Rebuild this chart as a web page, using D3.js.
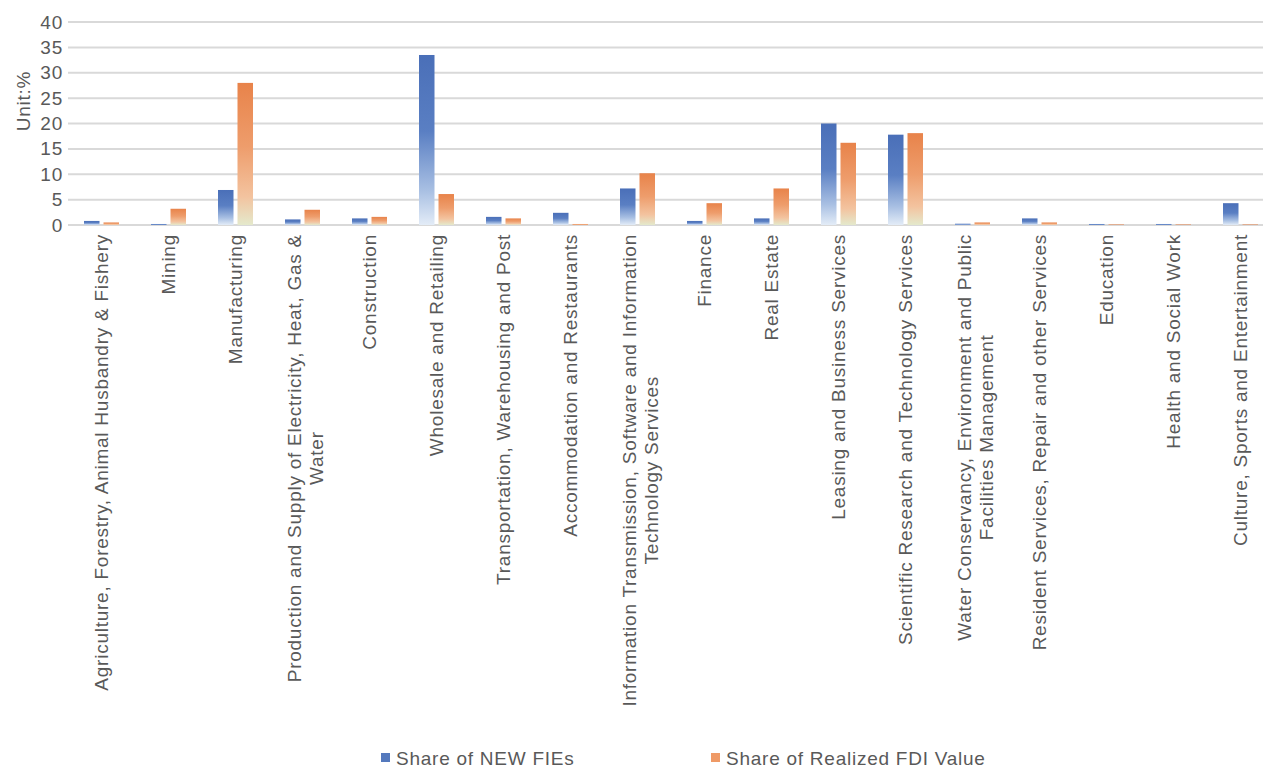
<!DOCTYPE html>
<html>
<head>
<meta charset="utf-8">
<script src="https://cdn.jsdelivr.net/npm/d3@7/dist/d3.min.js"></script>
<style>
  html, body { margin: 0; padding: 0; background: #fff; }
  svg { display: block; font-family: "Liberation Sans", Arial, Helvetica, sans-serif; }
  .lbl { font-size: 19px; fill: #595959; letter-spacing: 0.75px; }
</style>
</head>
<body>
<svg id="chart" width="1263" height="769"></svg>
<script>
// Industries (a "\n" marks where a long label wraps onto a second line)
const categories = [
  "Agriculture, Forestry, Animal Husbandry & Fishery",
  "Mining",
  "Manufacturing",
  "Production and Supply of Electricity, Heat, Gas &\nWater",
  "Construction",
  "Wholesale and Retailing",
  "Transportation, Warehousing and Post",
  "Accommodation and Restaurants",
  "Information Transmission, Software and Information\nTechnology Services",
  "Finance",
  "Real Estate",
  "Leasing and Business Services",
  "Scientific Research and Technology Services",
  "Water Conservancy, Environment and Public\nFacilities Management",
  "Resident Services, Repair and other Services",
  "Education",
  "Health and Social Work",
  "Culture, Sports and Entertainment"
];

// Share of newly established foreign-invested enterprises (%)
const newFIEs = [0.8, 0.2, 6.9, 1.1, 1.3, 33.5, 1.6, 2.4, 7.2, 0.8, 1.3, 20.0, 17.8, 0.25, 1.3, 0.2, 0.2, 4.3];
// Share of realized FDI value (%)
const realizedFDI = [0.5, 3.2, 28.0, 3.0, 1.6, 6.1, 1.3, 0.2, 10.2, 4.3, 7.2, 16.2, 18.1, 0.5, 0.5, 0.1, 0.1, 0.1];

const seriesNames = ["Share of NEW FIEs", "Share of Realized FDI Value"];
const yTicks = [0, 5, 10, 15, 20, 25, 30, 35, 40];
const yTitle = "Unit:%";

const svg = d3.select("#chart");
const W = 1263;

const y = d3.scaleLinear().domain([0, 40]).range([225, 22]);
const x = d3.scaleBand().domain(categories).range([67.5, 1273.5]).padding(0);
const xs = d3.scaleBand().domain(seriesNames).range([16.5, 51.5]).paddingInner(0.205);

// gradient fills, dark at the top fading towards the baseline
const defs = svg.append("defs");
const grads = [
  { id: "gBlue", stops: [[0, "#4a6fb8"], [0.45, "#5a7fc3"], [0.8, "#a9c0e3"], [1, "#e3ecf7"]] },
  { id: "gOrange", stops: [[0, "#e8834a"], [0.45, "#ee9d6c"], [0.8, "#f3c39f"], [1, "#e4e9cc"]] }
];
grads.forEach(g => {
  const lg = defs.append("linearGradient").attr("id", g.id)
    .attr("x1", 0).attr("y1", 0).attr("x2", 0).attr("y2", 1);
  g.stops.forEach(s => lg.append("stop").attr("offset", s[0]).attr("stop-color", s[1]));
});
const fills = ["url(#gBlue)", "url(#gOrange)"];

// horizontal gridlines
svg.append("g").selectAll("line").data(yTicks).join("line")
  .attr("x1", 68).attr("x2", W)
  .attr("y1", d => y(d)).attr("y2", d => y(d))
  .attr("stroke", "#d9d9d9").attr("stroke-width", 2);

// y axis labels
const yAxis = svg.append("g").attr("transform", "translate(68,0)")
  .call(d3.axisLeft(y).tickValues(yTicks).tickSize(0).tickPadding(5));
yAxis.select(".domain").remove();
yAxis.selectAll("text").attr("class", "lbl").attr("font-family", null).attr("font-size", null)
  .attr("fill", "#595959");

svg.append("text").attr("class", "lbl")
  .attr("transform", "translate(23.5,101) rotate(-90)")
  .attr("text-anchor", "middle").attr("dy", "0.35em")
  .text(yTitle);

// bars
const rows = categories.map((c, i) => ({ c, vals: [newFIEs[i], realizedFDI[i]] }));
const groups = svg.append("g").selectAll("g").data(rows).join("g")
  .attr("transform", d => `translate(${x(d.c)},0)`);
groups.selectAll("rect").data(d => d.vals.map((v, k) => ({ v, k }))).join("rect")
  .attr("x", d => xs(seriesNames[d.k]))
  .attr("width", xs.bandwidth())
  .attr("y", d => y(d.v))
  .attr("height", d => y(0) - y(d.v))
  .attr("fill", d => fills[d.k]);

// rotated category labels
const labelTop = 234;
categories.forEach(c => {
  const cx = x(c) + x.bandwidth() / 2;
  const lines = c.split("\n");
  const g = svg.append("g").attr("transform", `translate(${cx},${labelTop}) rotate(-90)`);
  if (lines.length === 1) {
    g.append("text").attr("class", "lbl").attr("text-anchor", "end")
      .attr("dy", "0.35em").text(lines[0]);
  } else {
    const t1 = g.append("text").attr("class", "lbl").attr("text-anchor", "end")
      .attr("y", -8).attr("dy", "0.35em").text(lines[0]);
    const len = t1.node().getComputedTextLength();
    g.append("text").attr("class", "lbl").attr("text-anchor", "middle")
      .attr("x", -len / 2).attr("y", 14).attr("dy", "0.35em").text(lines[1]);
  }
});

// legend
const legendX = [381, 711];
const legendColors = ["#5479bd", "#ef9a66"];
seriesNames.forEach((s, i) => {
  svg.append("rect").attr("x", legendX[i]).attr("y", 753).attr("width", 9).attr("height", 9)
    .attr("fill", legendColors[i]);
  svg.append("text").attr("class", "lbl").attr("x", legendX[i] + 15).attr("y", 758)
    .attr("dy", "0.35em").text(s);
});
</script>
</body>
</html>
